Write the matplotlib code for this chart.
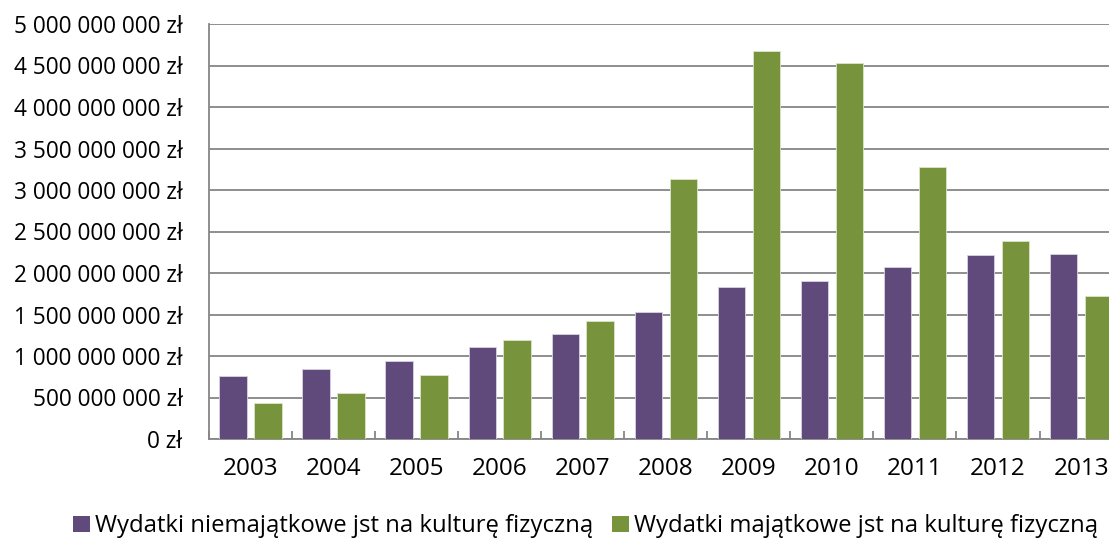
import matplotlib
matplotlib.use("Agg")
import matplotlib.pyplot as plt
from matplotlib.patches import Patch
from matplotlib.ticker import FuncFormatter, MultipleLocator
import numpy as np

years = ["2003", "2004", "2005", "2006", "2007", "2008", "2009", "2010", "2011", "2012", "2013"]
niemajatkowe = [763e6, 840e6, 943e6, 1108e6, 1269e6, 1530e6, 1831e6, 1904e6, 2076e6, 2222e6, 2225e6]
majatkowe = [430e6, 550e6, 771e6, 1196e6, 1422e6, 3133e6, 4671e6, 4527e6, 3277e6, 2380e6, 1723e6]
series_labels = ["Wydatki niemajątkowe jst na kulturę fizyczną",
                 "Wydatki majątkowe jst na kulturę fizyczną"]
colors = ["#604A7B", "#77933C"]

plt.rcParams['font.family'] = ['Open Sans', 'DejaVu Sans']

W, H = 1109, 541
fig = plt.figure(figsize=(W / 100, H / 100), dpi=100)
left, right, bottom, top = 209, 1122.6, 439, 24
ax = fig.add_axes([left / W, (H - bottom) / H, (right - left) / W, (bottom - top) / H])

x = np.arange(len(years))
bw = 0.33
off = 0.21
ax.bar(x - off, niemajatkowe, bw, color=colors[0], edgecolor="#d9d3e3", linewidth=0.6, zorder=3)
ax.bar(x + off, majatkowe, bw, color=colors[1], edgecolor="#dbe5c8", linewidth=0.6, zorder=3)

ax.set_xlim(-0.5, len(years) - 0.5)
ax.set_ylim(0, 5e9)
ax.yaxis.set_major_locator(MultipleLocator(5e8))

def fmt(v, pos):
    s = f"{int(round(v)):,}".replace(",", " ")
    return f"{s} zł"

ax.yaxis.set_major_formatter(FuncFormatter(fmt))
ax.grid(axis="y", color="#868686", linewidth=1.3, zorder=0)
ax.set_axisbelow(True)

for s in ["top", "right"]:
    ax.spines[s].set_visible(False)
for s in ["left", "bottom"]:
    ax.spines[s].set_color("#868686")
    ax.spines[s].set_linewidth(1.3)

ax.set_xticks(x)
ax.set_xticklabels(years)
ax.set_xticks(np.arange(len(years) + 1) - 0.5, minor=True)
ax.tick_params(axis="x", which="major", length=0, pad=13, labelsize=17.5, labelcolor="black")
ax.tick_params(axis="x", which="minor", length=6, width=1.3, direction="in", color="#868686")
ax.tick_params(axis="y", length=0, pad=19, labelsize=16.3, labelcolor="black")

handles = [Patch(facecolor=colors[0], edgecolor="none"), Patch(facecolor=colors[1], edgecolor="none")]
fig.legend(handles, series_labels, loc="center", bbox_to_anchor=(0.528, 0.027), ncol=2,
           frameon=False, fontsize=17.2, handlelength=0.7, handleheight=0.7,
           handletextpad=0.2, columnspacing=0.8, borderaxespad=0)

fig.savefig("out.png", dpi=100)
